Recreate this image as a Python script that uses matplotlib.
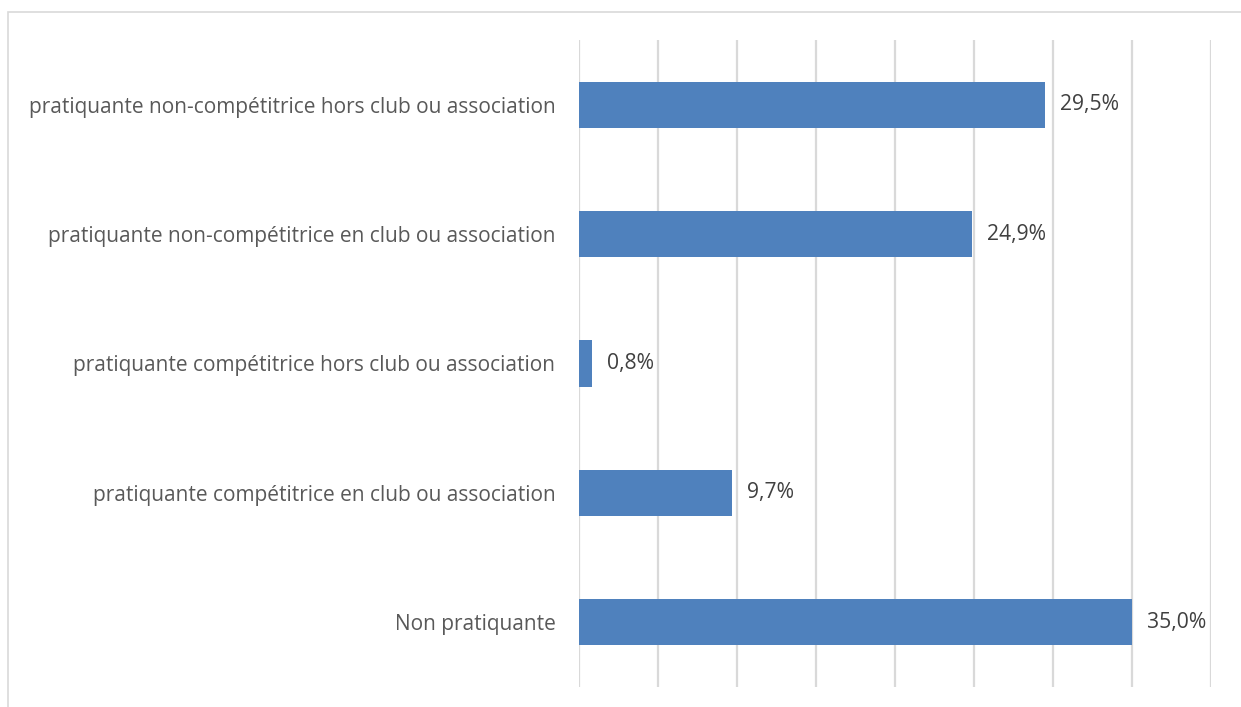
import matplotlib.pyplot as plt
from matplotlib.patches import Rectangle

# Data (bottom to top)
categories = [
    'Non pratiquante',
    'pratiquante compétitrice en club ou association',
    'pratiquante compétitrice hors club ou association',
    'pratiquante non-compétitrice en club ou association',
    'pratiquante non-compétitrice hors club ou association',
]
values = [35.0, 9.7, 0.8, 24.9, 29.5]
labels = ['35,0%', '9,7%', '0,8%', '24,9%', '29,5%']

plt.rcParams['font.family'] = ['Open Sans', 'DejaVu Sans']

W, H = 1241, 707
fig = plt.figure(figsize=(W / 100, H / 100), dpi=100)
ax = fig.add_axes([579 / W, 1 - 687 / H, (1211 - 579) / W, (687 - 40) / H])

# outer chart border
fig.patches.append(Rectangle((8 / W, -0.01), 1.02 - 8 / W, 1 - 12 / H + 0.01,
                             transform=fig.transFigure, fill=False,
                             edgecolor='#D9D9D9', linewidth=1.2))

ypos = range(len(categories))
ax.barh(ypos, values, height=0.357, color='#4F81BD', zorder=3)

for y, v, lab in zip(ypos, values, labels):
    ax.text(v + 0.95, y, lab, va='center', ha='left', fontsize=15.2, color='#404040')

ax.set_xlim(0, 40)
ax.set_ylim(-0.5, 4.5)
ax.set_xticks(range(0, 41, 5))
ax.set_xticklabels([])
ax.set_yticks(list(ypos))
ax.set_yticklabels(categories, fontsize=15, color='#595959')
ax.tick_params(axis='both', length=0, pad=17)
ax.grid(axis='x', color='#D9D9D9', linewidth=1.6, zorder=0)
for s in ax.spines.values():
    s.set_visible(False)

fig.savefig('out.png', dpi=100)
